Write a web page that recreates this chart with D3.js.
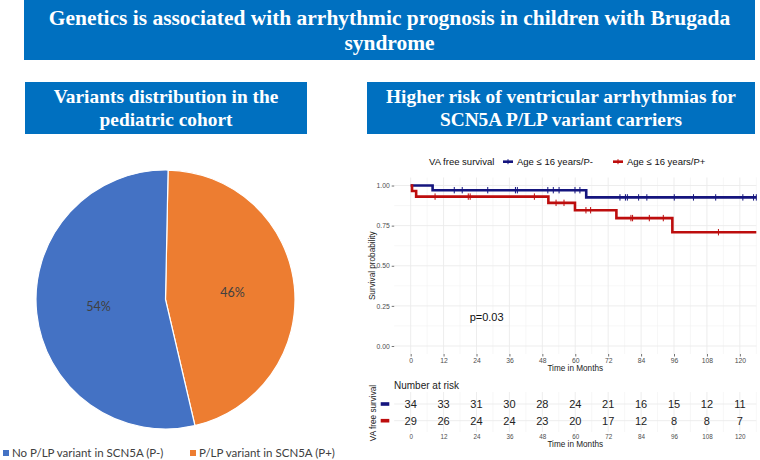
<!DOCTYPE html>
<html><head><meta charset="utf-8">
<script src="https://cdn.jsdelivr.net/npm/d3@7/dist/d3.min.js"></script>
<style>body{margin:0;background:#fff}svg{display:block}</style>
</head><body>
<svg id="c" width="760" height="460"></svg>
<script>
// ---------------- data ----------------
const mainTitleLines = ["Genetics is associated with arrhythmic prognosis in children with Brugada", "syndrome"];
const pieTitleLines = ["Variants distribution in the", "pediatric cohort"];
const kmTitleLines = ["Higher risk of ventricular arrhythmias for", "SCN5A P/LP variant carriers"];

const pieCategories = ["No P/LP variant in SCN5A (P-)", "P/LP variant in SCN5A (P+)"];
const pieCounts = [34, 29];
const pieColors = ["#4472C4", "#ED7D31"];

const kmLegendTitle = "VA free survival";
const kmGroups = ["Age \u2264 16 years/P-", "Age \u2264 16 years/P+"];
const kmColors = ["#15157e", "#bd0d0d"];
// step curves: [time (months), survival probability]
const kmStepsNeg = [[0, 1], [8, 0.971], [64, 0.926], [126, 0.926]];
const kmStepsPos = [[0, 1], [0.5, 0.966], [2, 0.931], [50.2, 0.892], [59.9, 0.846], [75, 0.797], [95.4, 0.709], [126, 0.709]];
// censoring times
const kmCensorNeg = [15.9, 18.8, 28.1, 38.2, 38.9, 50, 52, 54.1, 59.9, 61.7, 76.3, 78.3, 79, 83.1, 86.1, 96.1, 103.1, 111.2, 121.1, 125, 126];
const kmCensorPos = [8.9, 21, 21.7, 45.1, 53, 55.9, 63.9, 65.6, 80.3, 80.9, 87, 92.1, 112.2];
const timeTicks = [0, 12, 24, 36, 48, 60, 72, 84, 96, 108, 120];
const survTicks = [0, 0.25, 0.5, 0.75, 1];
const riskNeg = [34, 33, 31, 30, 28, 24, 21, 16, 15, 12, 11];
const riskPos = [29, 26, 24, 24, 23, 20, 17, 12, 8, 8, 7];
const pValueLabel = "p=0.03";
const xTitle = "Time in Months";
const yTitle = "Survival probability";
const riskTitle = "Number at risk";

// ---------------- drawing ----------------
const svg = d3.select("#c");
const BANNER = "#0070C0";
const SERIF = "'Liberation Serif','Times New Roman',serif";
const SANS = "'Liberation Sans',Arial,sans-serif";

function banner(x0, x1, y0, y1, lines, size, baselines, targetW) {
  svg.append("rect").attr("x", x0).attr("y", y0).attr("width", x1 - x0).attr("height", y1 - y0).attr("fill", BANNER);
  const cx = (x0 + x1) / 2;
  const g = svg.append("g");
  const texts = lines.map((t, i) => g.append("text").attr("x", 0).attr("y", baselines[i])
    .attr("text-anchor", "middle").attr("font-family", SERIF).attr("font-weight", "bold")
    .attr("font-size", size).attr("fill", "#fff").text(t));
  const w = texts[0].node().getComputedTextLength();
  const sx = targetW / w;
  g.attr("transform", `translate(${cx},0) scale(${sx},1)`);
}
banner(24, 755, 0, 60, mainTitleLines, 22, [25, 50], 682);
banner(25, 307, 82, 134, pieTitleLines, 18, [103.5, 126.5], 225);
banner(367, 755, 82, 134, kmTitleLines, 18, [103.5, 126.5], 350);

// ---- pie ----
const pcx = 165.5, pcy = 299.5, pr = 129.5;
const total = d3.sum(pieCounts);
const pieData = pieCategories.map((c, i) => ({ c, v: pieCounts[i], col: pieColors[i] }));
const pie = d3.pie().value(d => d.v).sort(null).startAngle(0.02).endAngle(0.02 + 2 * Math.PI);
const arcs = pie(pieData.slice().reverse());
const arc = d3.arc().innerRadius(0).outerRadius(pr);
const labelArc = d3.arc().innerRadius(pr * 0.52).outerRadius(pr * 0.52);
const pg = svg.append("g").attr("transform", `translate(${pcx},${pcy})`);
pg.selectAll("path").data(arcs).join("path").attr("d", arc).attr("fill", d => d.data.col)
  .attr("stroke", "#fff").attr("stroke-width", 1.2);
pg.selectAll("text").data(arcs).join("text")
  .attr("transform", d => `translate(${labelArc.centroid(d)})`)
  .attr("text-anchor", "middle").attr("dy", "0.35em")
  .attr("font-family", "Lato,'Open Sans',sans-serif").attr("font-size", 12.5).attr("fill", "#404040")
  .text(d => Math.round(d.data.v / total * 100) + "%");
// pie legend
const legX = [3, 190];
pieData.forEach((d, i) => {
  svg.append("rect").attr("x", legX[i]).attr("y", 450).attr("width", 6).attr("height", 6).attr("fill", d.col);
  svg.append("text").attr("x", legX[i] + 9).attr("y", 453).attr("dy", "0.35em")
    .attr("font-family", "Lato,'Open Sans',sans-serif").attr("font-size", 11.5).attr("fill", "#404040").text(d.c);
});

// ---- KM plot ----
const x = d3.scaleLinear().domain([-6, 126]).range([394.2, 756.3]);
const y = d3.scaleLinear().domain([-0.05, 1.05]).range([354, 177.5]);
const GRID = "#ebebeb";
const km = svg.append("g");
const minorT = d3.range(6, 127, 12);
const minorS = [0.125, 0.375, 0.625, 0.875];
km.selectAll(".gvm").data(minorT).join("line").attr("x1", d => x(d)).attr("x2", d => x(d))
  .attr("y1", y.range()[0]).attr("y2", y.range()[1]).attr("stroke", "#f2f2f2").attr("stroke-width", 0.6);
km.selectAll(".ghm").data(minorS).join("line").attr("y1", d => y(d)).attr("y2", d => y(d))
  .attr("x1", x.range()[0]).attr("x2", x.range()[1]).attr("stroke", "#f2f2f2").attr("stroke-width", 0.6);
km.selectAll(".gv").data(timeTicks).join("line").attr("x1", d => x(d)).attr("x2", d => x(d))
  .attr("y1", y.range()[0]).attr("y2", y.range()[1]).attr("stroke", GRID).attr("stroke-width", 0.9);
km.selectAll(".gh").data(survTicks).join("line").attr("y1", d => y(d)).attr("y2", d => y(d))
  .attr("x1", x.range()[0]).attr("x2", x.range()[1]).attr("stroke", GRID).attr("stroke-width", 0.9);

function styleAxis(g, fs) {
  g.select(".domain").remove();
  g.selectAll(".tick line").attr("stroke", "#333").attr("stroke-width", 0.7);
  g.selectAll(".tick text").attr("fill", "#4d4d4d").attr("font-size", fs).attr("font-family", SANS);
}
km.append("g").attr("transform", `translate(${x.range()[0]},0)`)
  .call(d3.axisLeft(y).tickValues(survTicks).tickFormat(d3.format(".2f")).tickSize(2.5).tickPadding(2))
  .call(g => styleAxis(g, 6.8));
km.append("g").attr("transform", `translate(0,${y.range()[0]})`)
  .call(d3.axisBottom(x).tickValues(timeTicks).tickSize(2.5).tickPadding(1.5))
  .call(g => styleAxis(g, 6.8));
km.append("text").attr("x", x(60)).attr("y", 371).attr("text-anchor", "middle")
  .attr("font-family", SANS).attr("font-size", 8.2).attr("fill", "#222").text(xTitle);
km.append("text").attr("transform", `translate(375,${(y.range()[0] + y.range()[1]) / 2}) rotate(-90)`)
  .attr("text-anchor", "middle").attr("font-family", SANS).attr("font-size", 8.2).attr("fill", "#222").text(yTitle);

function survAt(steps, t) {
  let s = steps[0][1];
  for (const p of steps) if (p[0] <= t) s = p[1];
  return s;
}
const line = d3.line().x(d => x(d[0])).y(d => y(d[1])).curve(d3.curveStepAfter);
[[kmStepsNeg, kmCensorNeg], [kmStepsPos, kmCensorPos]].forEach(([steps, cens], i) => {
  km.append("path").attr("d", line(steps)).attr("fill", "none").attr("stroke", kmColors[i])
    .attr("stroke-width", 2.6).attr("stroke-linejoin", "miter");
  km.selectAll(null).data(cens).join("line")
    .attr("x1", d => x(d)).attr("x2", d => x(d))
    .attr("y1", d => y(survAt(steps, d)) - 3.2).attr("y2", d => y(survAt(steps, d)) + 3.2)
    .attr("stroke", kmColors[i]).attr("stroke-width", 1);
});
km.append("text").attr("x", x(21.5)).attr("y", 317).attr("dy", "0.35em")
  .attr("font-family", SANS).attr("font-size", 11).attr("fill", "#111").text(pValueLabel);

// legend
const ly = 161.7;
km.append("text").attr("x", 429).attr("y", ly).attr("dy", "0.35em")
  .attr("font-family", SANS).attr("font-size", 9.5).attr("fill", "#111").text(kmLegendTitle);
const legKeyX = [503, 613];
kmGroups.forEach((g, i) => {
  km.append("line").attr("x1", legKeyX[i]).attr("x2", legKeyX[i] + 10).attr("y1", ly).attr("y2", ly)
    .attr("stroke", kmColors[i]).attr("stroke-width", 2.6);
  km.append("line").attr("x1", legKeyX[i] + 5).attr("x2", legKeyX[i] + 5).attr("y1", ly - 2.5).attr("y2", ly + 2.5)
    .attr("stroke", kmColors[i]).attr("stroke-width", 1);
  km.append("text").attr("x", legKeyX[i] + 14).attr("y", ly).attr("dy", "0.35em")
    .attr("font-family", SANS).attr("font-size", 9.5).attr("fill", "#111").text(g);
});

// ---- risk table ----
const ry = d3.scalePoint().domain(kmGroups).range([404, 420.7]);
const rt = svg.append("g");
const rTop = 392, rBot = 432;
rt.selectAll(".rvm").data(minorT).join("line").attr("x1", d => x(d)).attr("x2", d => x(d))
  .attr("y1", rTop).attr("y2", rBot).attr("stroke", "#f2f2f2").attr("stroke-width", 0.6);
rt.selectAll(".rv").data(timeTicks).join("line").attr("x1", d => x(d)).attr("x2", d => x(d))
  .attr("y1", rTop).attr("y2", rBot).attr("stroke", GRID).attr("stroke-width", 0.9);
rt.selectAll(".rh").data(kmGroups).join("line").attr("y1", d => ry(d)).attr("y2", d => ry(d))
  .attr("x1", x.range()[0]).attr("x2", x.range()[1]).attr("stroke", GRID).attr("stroke-width", 0.9);
rt.append("text").attr("x", 394).attr("y", 385).attr("dy", "0.35em")
  .attr("font-family", SANS).attr("font-size", 10).attr("fill", "#222").text(riskTitle);
[riskNeg, riskPos].forEach((vals, i) => {
  rt.selectAll(null).data(vals).join("text")
    .attr("x", (d, j) => x(timeTicks[j])).attr("y", ry(kmGroups[i])).attr("dy", "0.35em")
    .attr("text-anchor", "middle").attr("font-family", SANS).attr("font-size", 11).attr("fill", "#222").text(d => d);
  rt.append("rect").attr("x", 380.7).attr("y", ry(kmGroups[i]) - 1.8).attr("width", 8.6).attr("height", 3.6)
    .attr("fill", kmColors[i]);
});
rt.append("g").attr("transform", `translate(0,${rBot})`)
  .call(d3.axisBottom(x).tickValues(timeTicks).tickSize(0).tickPadding(3))
  .call(g => styleAxis(g, 6.3));
rt.append("text").attr("x", x(60)).attr("y", 447).attr("text-anchor", "middle")
  .attr("font-family", SANS).attr("font-size", 8.2).attr("fill", "#222").text(xTitle);
rt.append("text").attr("transform", `translate(376,413) rotate(-90)`)
  .attr("text-anchor", "middle").attr("font-family", SANS).attr("font-size", 8.2).attr("fill", "#222").text(kmLegendTitle);
</script>
</body></html>
